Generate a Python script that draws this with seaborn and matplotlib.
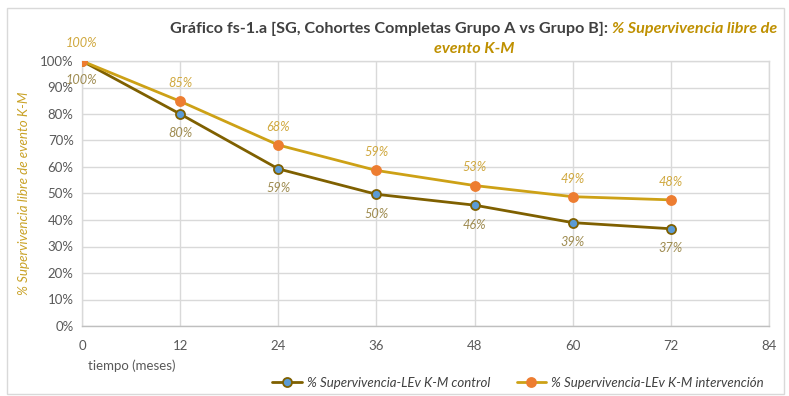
import matplotlib
matplotlib.use("Agg")
import matplotlib.pyplot as plt
from matplotlib.patches import Rectangle
from matplotlib.ticker import FuncFormatter, MultipleLocator
import seaborn as sns
import pandas as pd

# Kaplan-Meier event-free survival by follow-up month
months = [0, 12, 24, 36, 48, 60, 72]
control = [1.00, 0.80, 0.593, 0.497, 0.456, 0.390, 0.367]
intervention = [1.00, 0.848, 0.683, 0.587, 0.530, 0.488, 0.476]
series_names = ["% Supervivencia-LEv K-M control", "% Supervivencia-LEv K-M intervención"]
x_ticks = [0, 12, 24, 36, 48, 60, 72, 84]

df = pd.DataFrame({
    "mes": months * 2,
    "sv": control + intervention,
    "serie": [series_names[0]] * len(months) + [series_names[1]] * len(months),
})

sns.set_theme(style="white")
plt.rcParams["font.family"] = ["Lato", "DejaVu Sans"]

GRID = "#D9D9D9"
TXT = "#595959"
CTRL_LINE = "#7F6000"
CTRL_MK = "#5B9BD5"
INT_LINE = "#CDA116"
INT_MK = "#ED7D31"
CTRL_LBL = "#9E8B50"
INT_LBL = "#D0A83E"
GOLD = "#BF9000"

fig = plt.figure(figsize=(7.89, 3.96), dpi=100)
ax = fig.add_axes([82 / 789, 1 - 326 / 396, (769 - 82) / 789, (326 - 61) / 396])

# outer chart frame
fig.patches.append(Rectangle((7 / 789, 0.005), 777 / 789, 1 - 8 / 396 - 0.005,
                             transform=fig.transFigure, fill=False,
                             edgecolor="#D9D9D9", linewidth=1.0, zorder=0))

styles = {
    series_names[0]: dict(color=CTRL_LINE, mfc=CTRL_MK, mec=CTRL_LINE),
    series_names[1]: dict(color=INT_LINE, mfc=INT_MK, mec=INT_MK),
}
handles = []
for name in series_names:
    st = styles[name]
    sub = df[df["serie"] == name]
    sns.lineplot(data=sub, x="mes", y="sv", ax=ax, color=st["color"], linewidth=2.0,
                 marker="o", markersize=6.5, markerfacecolor=st["mfc"],
                 markeredgecolor=st["mec"], markeredgewidth=1.3, zorder=3,
                 label=name, legend=False)
    handles.append(ax.lines[-1])

# value labels
for m, v in zip(months, intervention):
    ax.annotate(f"{v:.0%}", (m, v), xytext=(0, 13), textcoords="offset points",
                ha="center", va="center", fontsize=9.2, style="italic", color=INT_LBL)
for m, v in zip(months, control):
    ax.annotate(f"{v:.0%}", (m, v), xytext=(0, -14), textcoords="offset points",
                ha="center", va="center", fontsize=9.2, style="italic", color=CTRL_LBL)

ax.set_xlim(0, 84)
ax.set_ylim(0, 1)
ax.set_xticks(x_ticks)
ax.yaxis.set_major_locator(MultipleLocator(0.1))
ax.yaxis.set_major_formatter(FuncFormatter(lambda v, p: f"{v:.0%}"))
ax.grid(True, color=GRID, linewidth=1.0)
ax.set_axisbelow(True)
for s in ax.spines.values():
    s.set_color(GRID)
    s.set_linewidth(1.0)
ax.spines["bottom"].set_color("#BFBFBF")
ax.tick_params(axis="x", length=0, pad=10, labelsize=9.5, labelcolor=TXT)
ax.tick_params(axis="y", length=0, pad=6, labelsize=9.5, labelcolor=TXT)
ax.set_xlabel("")
ax.set_ylabel("% Supervivencia libre de evento K-M", fontsize=9.6, style="italic",
              color="#C9A227", labelpad=7)

fig.text(88 / 789, 1 - 366 / 396, "tiempo (meses)", fontsize=9.5, color=TXT,
         ha="left", va="center")

# two-tone title
y1 = 1 - 29 / 396
fig.canvas.draw()
r = fig.canvas.get_renderer()
t1 = fig.text(0, y1, "Gráfico fs-1.a [SG, Cohortes Completas Grupo A vs Grupo B]: ",
              fontsize=11.6, fontweight="bold", color="#404040", ha="left", va="center")
t2 = fig.text(0, y1, "% Supervivencia libre de", fontsize=11.6, fontweight="bold",
              style="italic", color=GOLD, ha="left", va="center")
w1 = t1.get_window_extent(r).width
w2 = t2.get_window_extent(r).width
cx = 474
x0 = cx - (w1 + w2) / 2
t1.set_x(x0 / 789)
t2.set_x((x0 + w1) / 789)
fig.text(cx / 789, 1 - 49 / 396, "evento K-M", fontsize=11.6, fontweight="bold",
         style="italic", color=GOLD, ha="center", va="center")

fig.legend(handles=handles, labels=series_names, loc="center",
           bbox_to_anchor=(518 / 789, 1 - 383 / 396), ncol=2, frameon=False,
           prop={"size": 9.5, "style": "italic"}, labelcolor="#404040",
           handlelength=2.2, columnspacing=2.0, handletextpad=0.4)

fig.savefig("out.png", dpi=100)
